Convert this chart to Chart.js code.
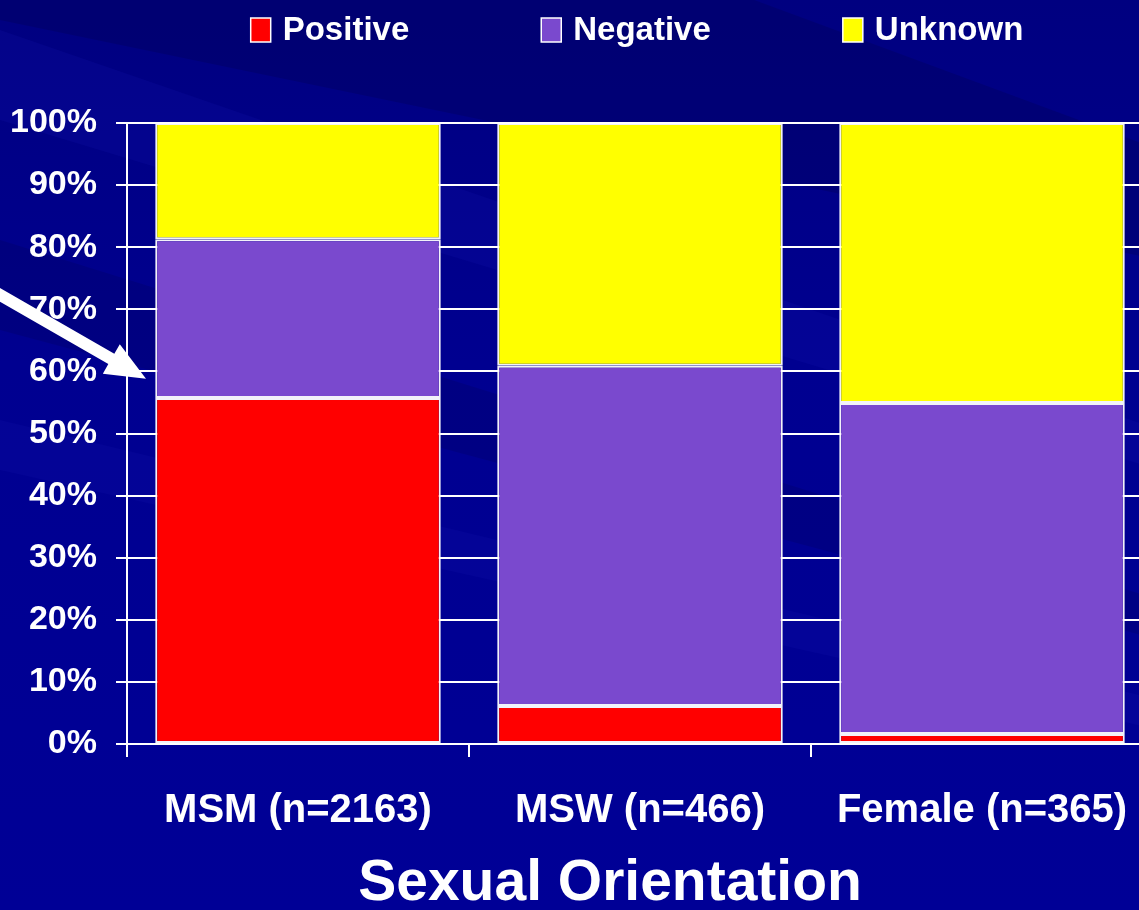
<!DOCTYPE html>
<html>
<head>
<meta charset="utf-8">
<script src="https://cdn.jsdelivr.net/npm/chart.js@4.4.1/dist/chart.umd.min.js"></script>
<style>
  html, body { margin: 0; padding: 0; overflow: hidden; background: #000094; }
  #wrap { position: relative; width: 1160px; height: 910px; }
</style>
</head>
<body>
<div id="wrap"><canvas id="chart" width="1160" height="910"></canvas></div>
<script>
const categories = ["MSM (n=2163)", "MSW (n=466)", "Female (n=365)"];
const seriesNames = ["Positive", "Negative", "Unknown"];
const positive = [55.7, 6.1, 1.6];
const negative = [25.6, 54.8, 53.3];
const unknown = [18.7, 39.1, 45.1];
const yTickValues = [0, 10, 20, 30, 40, 50, 60, 70, 80, 90, 100];
const axisTitle = "Sexual Orientation";
const arrowTarget = 58.8; // percent level the arrow points at

const FONT = "Arial, 'Liberation Sans', sans-serif";
const colors = ["#ff0000", "#7a49ce", "#ffff00"];

// slide background with diagonal streaks
const slideBg = {
    id: "slideBg",
    beforeDraw(chart) {
        const ctx = chart.ctx, w = chart.width, h = chart.height;
        ctx.save();
        const g = ctx.createLinearGradient(0, 0, 0, h);
        g.addColorStop(0, "#000080");
        g.addColorStop(0.4, "#000090");
        g.addColorStop(1, "#000096");
        ctx.fillStyle = g;
        ctx.fillRect(0, 0, w, h);
        const bands = [
            { c: "rgba(0,0,70,0.25)", p: [[0, -20], [700, -20], [1160, 150], [1160, 260], [0, 20]] },
            { c: "rgba(30,30,190,0.15)", p: [[0, 30], [1160, 430], [1160, 470], [0, 120]] },
            { c: "rgba(0,0,80,0.22)", p: [[0, 240], [1160, 600], [1160, 640], [0, 330]] },
            { c: "rgba(30,30,190,0.12)", p: [[0, 420], [1160, 700], [1160, 730], [0, 470]] }
        ];
        bands.forEach(b => {
            ctx.fillStyle = b.c;
            ctx.beginPath();
            b.p.forEach((pt, i) => i ? ctx.lineTo(pt[0], pt[1]) : ctx.moveTo(pt[0], pt[1]));
            ctx.closePath();
            ctx.fill();
        });
        ctx.restore();
    }
};

// legend row, axis title and the pointer arrow
const overlay = {
    id: "overlay",
    afterDraw(chart) {
        const ctx = chart.ctx;
        const area = chart.chartArea;
        ctx.save();

        // legend
        ctx.font = "bold 33px " + FONT;
        ctx.textBaseline = "middle";
        ctx.textAlign = "left";
        const boxW = 20, boxH = 24, gapText = 12, gapItem = 132;
        const items = chart.data.datasets.map(ds => ({
            text: ds.label, color: ds.backgroundColor,
            w: boxW + gapText + ctx.measureText(ds.label).width
        }));
        const total = items.reduce((s, it) => s + it.w, 0) + gapItem * (items.length - 1);
        let x = (area.left + area.right) / 2 - 3 - total / 2;
        const ly = 30;
        items.forEach(it => {
            ctx.fillStyle = it.color;
            ctx.fillRect(x, ly - boxH / 2, boxW, boxH);
            ctx.strokeStyle = "#ffffff";
            ctx.lineWidth = 1.5;
            ctx.strokeRect(x, ly - boxH / 2, boxW, boxH);
            ctx.fillStyle = "#ffffff";
            ctx.fillText(it.text, x + boxW + gapText, ly + 1);
            x += it.w + gapItem;
        });

        // x axis title
        ctx.font = "bold 57px " + FONT;
        ctx.textAlign = "center";
        ctx.fillText(axisTitle, 610, 884);

        // arrow
        const yScale = chart.scales.y;
        const tipX = area.left + 19, tipY = yScale.getPixelForValue(arrowTarget);
        const ang = Math.atan2(84, 146);
        const ux = Math.cos(ang), uy = Math.sin(ang);
        const nx = -uy, ny = ux;
        const headL = 40, headW = 17, shaftW = 12;
        const bx = tipX - ux * headL, by = tipY - uy * headL;
        const startX = tipX - ux * 260, startY = tipY - uy * 260;
        ctx.fillStyle = "#ffffff";
        ctx.beginPath();
        ctx.moveTo(startX + nx * shaftW / 2, startY + ny * shaftW / 2);
        ctx.lineTo(bx + nx * shaftW / 2, by + ny * shaftW / 2);
        ctx.lineTo(bx + nx * headW, by + ny * headW);
        ctx.lineTo(tipX, tipY);
        ctx.lineTo(bx - nx * headW, by - ny * headW);
        ctx.lineTo(bx - nx * shaftW / 2, by - ny * shaftW / 2);
        ctx.lineTo(startX - nx * shaftW / 2, startY - ny * shaftW / 2);
        ctx.closePath();
        ctx.fill();

        ctx.restore();
    }
};

const seriesValues = [positive, negative, unknown];
const datasets = seriesNames.map((name, i) => ({
    label: name,
    data: seriesValues[i],
    backgroundColor: colors[i],
    borderColor: "rgba(255,255,255,0.95)",
    borderWidth: 2,
    borderSkipped: false,
    categoryPercentage: 1,
    barPercentage: 0.835
}));

new Chart(document.getElementById("chart"), {
    type: "bar",
    data: { labels: categories, datasets },
    options: {
        responsive: false,
        animation: false,
        layout: { padding: { top: 123, right: 7, left: 0, bottom: 0 } },
        plugins: { legend: { display: false }, tooltip: { enabled: false } },
        scales: {
            x: {
                stacked: true,
                afterFit(scale) { scale.height = 166; },
                grid: {
                    offset: true, drawOnChartArea: false, drawTicks: true,
                    tickLength: 13, color: "#ffffff", lineWidth: 2
                },
                border: { display: true, color: "#ffffff", width: 2 },
                ticks: {
                    color: "#ffffff", padding: 30,
                    font: { family: FONT, size: 40, weight: "bold" },
                    maxRotation: 0
                }
            },
            y: {
                stacked: true,
                min: 0, max: 100,
                afterFit(scale) { scale.width = 127; },
                afterBuildTicks(scale) { scale.ticks = yTickValues.map(v => ({ value: v })); },
                grid: { color: "#ffffff", lineWidth: 2, tickLength: 11 },
                border: { display: true, color: "#ffffff", width: 2 },
                ticks: {
                    color: "#ffffff", padding: 19,
                    font: { family: FONT, size: 34, weight: "bold" },
                    callback: v => v + "%"
                }
            }
        }
    },
    plugins: [slideBg, overlay]
});
</script>
</body>
</html>
